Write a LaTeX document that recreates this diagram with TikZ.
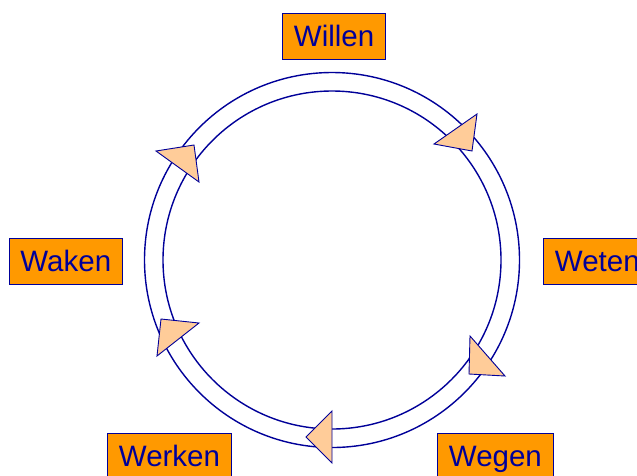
\documentclass[tikz,border=0pt]{standalone}
\usepackage{fontspec}
\setmainfont{Liberation Sans}
\definecolor{navy}{RGB}{0,0,153}
\definecolor{boxorange}{RGB}{255,153,0}
\definecolor{peach}{RGB}{255,204,153}
\begin{document}
\begin{tikzpicture}[x=1pt,y=-1pt,
  stage/.style={draw=navy, line width=0.9pt, fill=boxorange, text=navy,
    font=\fontsize{29.5pt}{34pt}\selectfont, text height=21pt, text depth=0pt,
    inner xsep=11.5pt, inner ysep=12.5pt, anchor=north west},
  ring/.style={draw=navy, line width=1.4pt},
  pointer/.style={draw=navy, line width=0.9pt, fill=peach, line join=miter}]
  \clip (0,0) rectangle (637,475);
  \fill[white] (0,0) rectangle (637,475);
  % double ring
  \coordinate (c) at (332,260);
  \draw[ring] (c) circle[radius=187.5];
  \draw[ring] (c) circle[radius=169];
  % direction markers along the ring
  \draw[pointer] (477,114) -- (434,144) -- (472,151) -- cycle;
  \draw[pointer] (470,336) -- (469,374) -- (505,376) -- cycle;
  \draw[pointer] (332,411) -- (306,437) -- (332,463) -- cycle;
  \draw[pointer] (161,319) -- (199,323) -- (157,356) -- cycle;
  \draw[pointer] (156,151) -- (194,145) -- (199,182) -- cycle;
  % stage labels
  \node[stage] (willen) at (282,13) {Willen};
  \node[stage] (weten)  at (543,238) {Weten};
  \node[stage] (wegen)  at (437,433) {Wegen};
  \node[stage] (werken) at (107,433) {Werken};
  \node[stage] (waken)  at (8.5,237.5) {Waken};
\end{tikzpicture}
\end{document}
